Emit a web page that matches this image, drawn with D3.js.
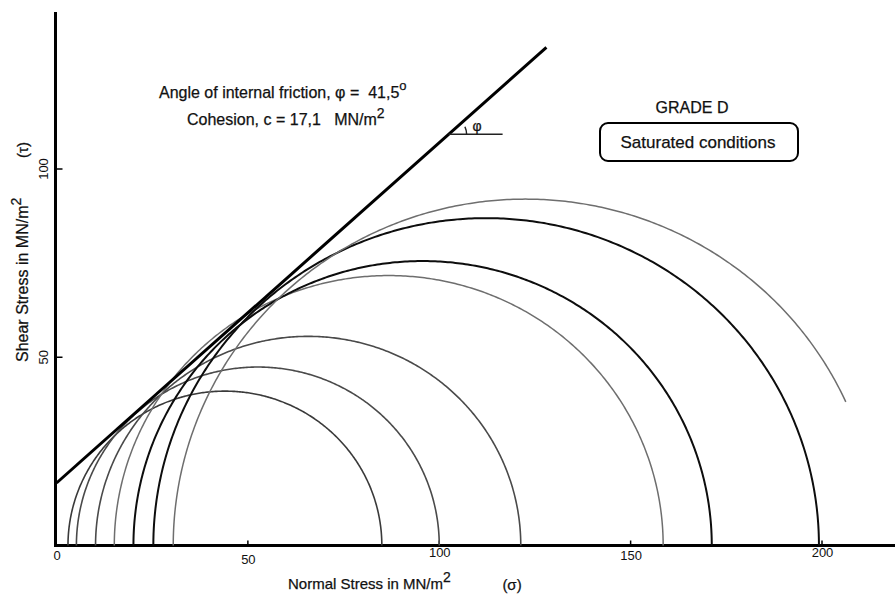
<!DOCTYPE html>
<html>
<head>
<meta charset="utf-8">
<script src="https://cdn.jsdelivr.net/npm/d3@7"></script>
<style>
  html, body { margin: 0; padding: 0; background: #fff; }
  svg { display: block; }
  .lbl { font-family: "Liberation Sans", Arial, sans-serif; fill: #111; stroke: #111; stroke-width: 0.25; }
  .tick { font-family: "Liberation Sans Narrow", "Liberation Sans", Arial, sans-serif; fill: #111; }
</style>
</head>
<body>
<svg id="chart" width="895" height="596"></svg>
<script>
// ---------------- data ----------------
// Mohr circles: minor and major principal stresses (MN/m2)
const sigma3 = [3.0, 5.2, 10.2, 15.1, 20.1, 25.3, 30.5];
const sigma1 = [85.0, 100.0, 121.3, 158.5, 171.2, 199.2, 214.5];
// where each drawn arc stops on the right (null = reaches the axis)
const arcEnd = [null, null, null, null, null, null, 206.3];
// failure envelope endpoints [sigma, tau]
const envelope = [[0, 16.6], [128, 132.3]];
const xTicks = [0, 50, 100, 150, 200];
const yTicks = [50, 100];
const phiDeg = 41.5;
const cohesion = 17.1;

// ---------------- styles ----------------
const arcColor = ["#3a3a3a", "#4a4a4a", "#4a4a4a", "#6e6e6e", "#0d0d0d", "#0d0d0d", "#6e6e6e"];
const arcWidth = [1.6, 1.6, 1.6, 1.5, 2.0, 2.0, 1.5];

const svg = d3.select("#chart");
const x = d3.scaleLinear().domain([0, 200]).range([56.5, 822]);
const y = d3.scaleLinear().domain([0, 100]).range([545.5, 169]);

// axes lines
svg.append("line").attr("x1", x(0) - 1).attr("x2", 895).attr("y1", y(0)).attr("y2", y(0))
  .attr("stroke", "#000").attr("stroke-width", 3);
svg.append("line").attr("x1", x(0) - 1).attr("x2", x(0) - 1).attr("y1", 12).attr("y2", y(0) + 1.5)
  .attr("stroke", "#000").attr("stroke-width", 3);

// x ticks (inward) and labels
const xAxis = d3.axisBottom(x).tickValues(xTicks).tickSize(0).tickFormat(d3.format("d"));
const gx = svg.append("g").attr("transform", `translate(0,${y(0)})`).call(xAxis);
gx.select(".domain").remove();
gx.selectAll("text").attr("class", "tick").attr("font-size", 13).attr("y", 5)
  .attr("dy", (d, i) => [0.75, 1.05, 0.5, 0.75, 0.5][i] + "em");
svg.selectAll(".xt").data(xTicks.filter(d => d > 0)).enter().append("line")
  .attr("x1", d => x(d)).attr("x2", d => x(d)).attr("y1", y(0)).attr("y2", y(0) - 5)
  .attr("stroke", "#000").attr("stroke-width", 1.5);

// y ticks and rotated labels
svg.selectAll(".yt").data(yTicks).enter().append("line")
  .attr("x1", x(0)).attr("x2", x(0) + 6).attr("y1", d => y(d)).attr("y2", d => y(d))
  .attr("stroke", "#000").attr("stroke-width", 1.5);
svg.selectAll(".ytl").data(yTicks).enter().append("text")
  .attr("class", "tick").attr("font-size", 13).attr("text-anchor", "middle")
  .attr("transform", d => `translate(48,${y(d)}) rotate(-90)`)
  .text(d => d);

// Mohr semicircles (sampled through the scales)
const line = d3.line().x(d => x(d[0])).y(d => y(d[1]));
sigma3.forEach((s3, i) => {
  const c = (s3 + sigma1[i]) / 2, r = (sigma1[i] - s3) / 2;
  const pts = [];
  for (let a = 180; a >= 0; a -= 0.5) {
    const sx = c + r * Math.cos(a * Math.PI / 180);
    const ty = r * Math.sin(a * Math.PI / 180);
    if (arcEnd[i] !== null && sx > arcEnd[i]) break;
    pts.push([sx, ty]);
  }
  svg.append("path").attr("d", line(pts)).attr("fill", "none")
    .attr("stroke", arcColor[i]).attr("stroke-width", arcWidth[i]);
});

// failure envelope
svg.append("path").attr("d", line(envelope)).attr("fill", "none")
  .attr("stroke", "#000").attr("stroke-width", 3);

// phi marker
const tauM = 109.2;
const sigV = envelope[0][0] + (tauM - envelope[0][1]) * (envelope[1][0] - envelope[0][0]) / (envelope[1][1] - envelope[0][1]);
svg.append("line").attr("x1", x(sigV)).attr("x2", x(sigV) + 54).attr("y1", y(tauM)).attr("y2", y(tauM))
  .attr("stroke", "#222").attr("stroke-width", 1.5);
const arcR = 18;
const arcG = d3.arc().innerRadius(arcR).outerRadius(arcR).startAngle(Math.PI / 2 - phiDeg * Math.PI / 180 * 0.6).endAngle(Math.PI / 2);
svg.append("path").attr("transform", `translate(${x(sigV)},${y(tauM)})`).attr("d", arcG())
  .attr("fill", "none").attr("stroke", "#222").attr("stroke-width", 1.5);
svg.append("text").attr("class", "lbl").attr("x", x(sigV) + 24).attr("y", y(tauM) - 3)
  .attr("font-size", 14).text("\u03C6");

// annotation text
const t1 = svg.append("text").attr("class", "lbl").attr("x", 159).attr("y", 98).attr("font-size", 16);
t1.append("tspan").text("Angle of internal friction, \u03C6 =\u00A0\u00A0" + String(phiDeg).replace(".", ","));
t1.append("tspan").attr("dy", -8).attr("font-size", 13).text("o");
const t2 = svg.append("text").attr("class", "lbl").attr("x", 187).attr("y", 125).attr("font-size", 16);
t2.append("tspan").text("Cohesion, c = " + String(cohesion).replace(".", ",") + "\u00A0\u00A0 MN/m");
t2.append("tspan").attr("dy", -7).attr("font-size", 14).text("2");

svg.append("text").attr("class", "lbl").attr("x", 692).attr("y", 113).attr("text-anchor", "middle")
  .attr("font-size", 16).text("GRADE D");
svg.append("rect").attr("x", 600).attr("y", 123).attr("width", 198).attr("height", 38).attr("rx", 8)
  .attr("fill", "none").attr("stroke", "#000").attr("stroke-width", 2);
svg.append("text").attr("class", "lbl").attr("x", 698).attr("y", 148).attr("text-anchor", "middle")
  .attr("font-size", 17).text("Saturated conditions");

// axis titles
const xt = svg.append("text").attr("class", "lbl").attr("x", 288).attr("y", 589).attr("font-size", 15);
xt.append("tspan").text("Normal Stress in MN/m");
xt.append("tspan").attr("dy", -7).attr("font-size", 14).text("2");
svg.append("text").attr("class", "lbl").attr("x", 512).attr("y", 590).attr("text-anchor", "middle")
  .attr("font-size", 15).text("(\u03C3)");

const yt = svg.append("text").attr("class", "lbl").attr("font-size", 16)
  .attr("transform", "translate(28,362) rotate(-90)");
yt.append("tspan").text("Shear Stress in MN/m");
yt.append("tspan").attr("dy", -7).attr("font-size", 14).text("2");
svg.append("text").attr("class", "lbl").attr("font-size", 15).attr("text-anchor", "middle")
  .attr("transform", "translate(28,150) rotate(-90)").text("(\u03C4)");
</script>
</body>
</html>
